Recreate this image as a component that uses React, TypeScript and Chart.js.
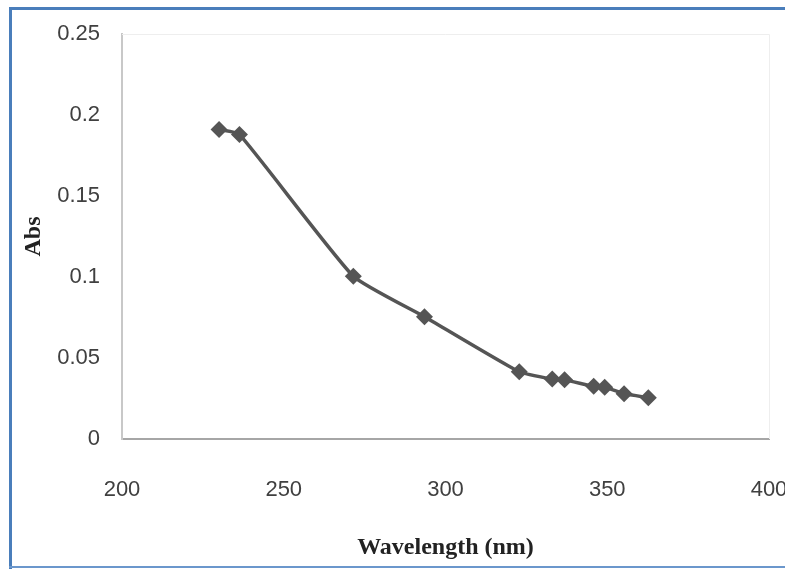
import React, { useEffect, useRef } from "react";
import { Chart, registerables } from "chart.js";

Chart.register(...registerables);

const wavelengths = [230, 236.3, 271.5, 293.5, 322.8, 333, 336.8, 345.8, 349.2, 355.2, 362.7];
const absorbance = [0.191, 0.188, 0.1005, 0.0755, 0.0415, 0.037, 0.0365, 0.0325, 0.032, 0.028, 0.0255];
const xTicks = [200, 250, 300, 350, 400];
const yTicks = [0, 0.05, 0.1, 0.15, 0.2, 0.25];
const xTitle = "Wavelength (nm)";
const yTitle = "Abs";

const framePlugin = {
  id: "frame",
  beforeDatasetsDraw(chart: any) {
    const { ctx, chartArea } = chart;
    ctx.save();
    ctx.strokeStyle = "#eeeeee";
    ctx.lineWidth = 1;
    ctx.beginPath();
    ctx.moveTo(chartArea.left, chartArea.top + 0.5);
    ctx.lineTo(chartArea.right + 0.5, chartArea.top + 0.5);
    ctx.lineTo(chartArea.right + 0.5, chartArea.bottom);
    ctx.stroke();
    ctx.restore();
  },
  afterDraw(chart: any) {
    const { ctx } = chart;
    ctx.save();
    ctx.fillStyle = "#4a7ebb";
    ctx.fillRect(9, 7, 3, 562);
    ctx.fillRect(9, 7, 776, 3);
    ctx.fillStyle = "#6b97cc";
    ctx.fillRect(9, 566, 776, 2);
    ctx.restore();
  },
};

export default function App() {
  const ref = useRef<HTMLCanvasElement>(null);
  useEffect(() => {
    if (!ref.current) return;
    const tickFont = { family: "'Liberation Sans', Arial, sans-serif", size: 22 };
    const chart = new Chart(ref.current, {
      type: "line",
      data: {
        datasets: [
          {
            data: wavelengths.map((w, i) => ({ x: w, y: absorbance[i] })),
            borderColor: "#555555",
            backgroundColor: "#555555",
            borderWidth: 3.5,
            pointStyle: "rectRot",
            pointRadius: 8.5,
            pointHoverRadius: 8.5,
            pointBorderWidth: 0,
            tension: 0.15,
            fill: false,
          },
        ],
      },
      options: {
        animation: false,
        responsive: false,
        maintainAspectRatio: false,
        layout: { padding: { top: 34, right: 16, left: 0, bottom: 0 } },
        plugins: { legend: { display: false }, tooltip: { enabled: false } },
        scales: {
          x: {
            type: "linear",
            min: 200,
            max: 400,
            afterBuildTicks: (s: any) => {
              s.ticks = xTicks.map((v) => ({ value: v }));
            },
            afterFit: (s: any) => {
              s.height = 130;
              s.paddingLeft = 0;
              s.paddingRight = 0;
            },
            grid: { display: false, drawTicks: false },
            border: { display: true, color: "#a6a6a6", width: 2 },
            ticks: { padding: 38, color: "#404040", font: tickFont, maxRotation: 0, callback: (v: any) => String(v) },
            title: {
              display: true,
              text: xTitle,
              color: "#222222",
              font: { family: "'Liberation Serif', 'Times New Roman', serif", size: 24, weight: "bold" },
              padding: { top: 7, bottom: 7 },
            },
          },
          y: {
            type: "linear",
            min: 0,
            max: 0.25,
            afterBuildTicks: (s: any) => {
              s.ticks = yTicks.map((v) => ({ value: v }));
            },
            afterFit: (s: any) => {
              s.width = 122;
              s.paddingTop = 0;
              s.paddingBottom = 0;
            },
            grid: { display: false, drawTicks: false },
            border: { display: true, color: "#c8c8c8", width: 2 },
            ticks: { padding: 22, color: "#404040", font: tickFont, callback: (v: any) => String(v) },
            title: {
              display: true,
              text: yTitle,
              color: "#222222",
              font: { family: "'Liberation Serif', 'Times New Roman', serif", size: 24, weight: "bold" },
              padding: { top: 19, bottom: 19 },
            },
          },
        },
      },
      plugins: [framePlugin],
    });
    return () => chart.destroy();
  }, []);
  return (
    <div style={{ position: "fixed", left: 0, top: 0, width: 785, height: 569, background: "#fff" }}>
      <canvas ref={ref} width={785} height={569} style={{ width: 785, height: 569, display: "block" }} />
    </div>
  );
}
